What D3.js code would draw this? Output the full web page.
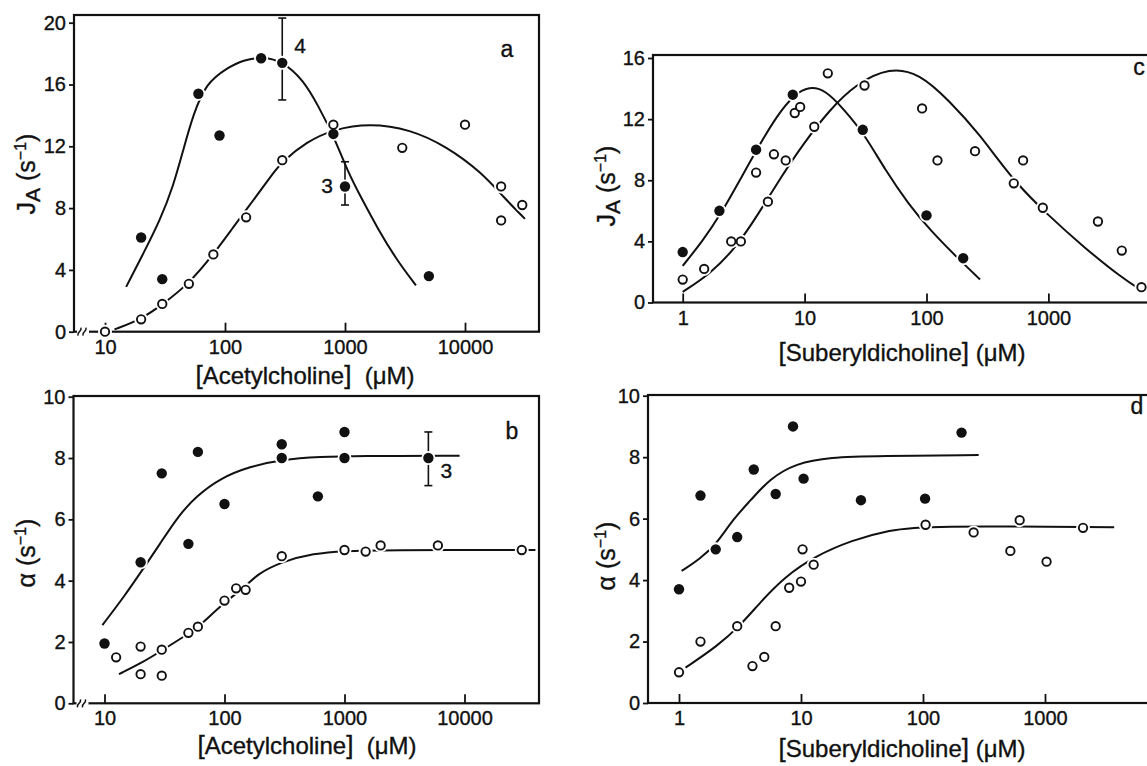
<!DOCTYPE html>
<html>
<head>
<meta charset="utf-8">
<script src="https://cdn.jsdelivr.net/npm/d3@7"></script>
<style>
  body { margin: 0; background: #fff; }
  svg { display: block; font-family: "Liberation Sans", Arial, sans-serif; }
  svg text { stroke: #111; stroke-width: 0.35px; }
</style>
</head>
<body>
<svg id="fig" width="1147" height="766"></svg>
<script>
// ---- data ----
// panel a: J_A vs [Acetylcholine]
const achFilledJ = [[20,6.1],[30,3.4],[60,15.4],[90,12.7],[200,17.7],[300,17.4],[800,12.8],[1000,9.4],[5000,3.6]];
const achOpenJ = [[10,0],[20,0.8],[30,1.8],[50,3.1],[80,5.0],[150,7.4],[300,11.1],[800,13.4],[3000,11.9],[10000,13.4],[20000,9.4],[20000,7.2],[30000,8.2]];
const achJErr = [[300,15.0,20.3,"4"],[1000,8.2,11.0,"3"]];
const achFilledJFit = [[15,2.9],[21,5.1],[28.7,7.2],[37,9.4],[45,11.8],[54.5,14.1],[70,16.1],[103,17.05],[142,17.6],[209,17.8],[300,17.5],[450,16.3],[600,14.6],[800,12.7],[1070,10.25],[1350,8.74],[1900,6.58],[2700,4.64],[3900,3.0]];
const achOpenJFit = [[12,0.15],[20,0.8],[30,1.75],[50,3.1],[80,5.0],[118,6.8],[172,8.5],[251,10.25],[300,11.0],[480,12.3],[800,13.1],[1600,13.5],[3500,13.1],[7000,12.0],[13800,10.3],[21000,8.7],[31600,7.3]];

// panel b: alpha vs [Acetylcholine]
const achFilledA = [[10,1.95],[20,4.6],[30,7.5],[50,5.2],[60,8.2],[100,6.5],[300,8.45],[300,8.0],[600,6.75],[1000,8.85],[1000,8.0],[5000,8.0]];
const achOpenA = [[12.5,1.5],[20,1.85],[20,0.95],[30,1.75],[30,0.9],[50,2.3],[60,2.5],[100,3.35],[125,3.75],[150,3.7],[300,4.8],[1000,5.0],[1500,4.95],[2000,5.15],[6000,5.15],[30000,5.0]];
const achAErr = [[5000,7.1,8.85,"3"]];
const achFilledAFit = [[9.6,2.55],[14.7,3.5],[20.7,4.35],[29,5.2],[41,6.1],[58,6.75],[93,7.35],[162,7.72],[300,7.95],[640,8.04],[1250,8.07],[9100,8.07]];
const achOpenAFit = [[13.2,0.95],[20.7,1.33],[30,1.72],[50,2.27],[60,2.47],[100,3.3],[150,3.8],[185,4.2],[300,4.62],[555,4.89],[1000,4.97],[2000,5.0],[39000,5.0]];

// panel c: J_A vs [Suberyldicholine]
const subFilledJ = [[1,3.3],[2,6.0],[4,10.0],[8,13.6],[30,11.3],[100,5.7],[200,2.9]];
const subOpenJ = [[1,1.5],[1.5,2.2],[2.5,4.0],[3,4.0],[4,8.5],[5,6.6],[5.6,9.7],[7,9.3],[8.3,12.4],[9.2,12.8],[12,11.5],[15.5,15.0],[31,14.2],[92,12.7],[123,9.3],[250,9.9],[520,7.8],[620,9.3],[900,6.2],[2550,5.3],[4000,3.4],[5800,1.0]];
const subFilledJFit = [[1,2.4],[1.45,4.0],[2.06,5.8],[2.94,8.0],[4.18,10.2],[5.95,12.25],[8.2,13.6],[10.9,14.15],[14.9,13.9],[21.2,12.6],[30.7,11.05],[46,8.65],[71,6.45],[108,4.7],[178,2.95],[275,1.5]];
const subOpenJFit = [[1,0.7],[1.67,1.85],[2.74,3.6],[4.18,5.8],[6.39,8.2],[9.78,10.4],[16,12.6],[26.3,14.3],[50,15.4],[87.5,15.0],[154,13.2],[271,11.05],[512,8.0],[968,5.8],[1963,3.6],[3980,1.63],[5890,0.76]];

// panel d: alpha vs [Suberyldicholine]
const subFilledA = [[1,3.7],[1.5,6.75],[2,5.0],[3,5.4],[4.1,7.6],[6.2,6.8],[8.6,9.0],[10.5,7.3],[31,6.6],[104,6.65],[207,8.8]];
const subOpenA = [[1,1.0],[1.5,2.0],[3,2.5],[4,1.2],[5,1.5],[6.2,2.5],[8,3.75],[10,3.95],[10.3,5.0],[12.7,4.5],[105,5.8],[260,5.55],[520,4.95],[620,5.95],[1030,4.6],[2050,5.7]];
const subFilledAFit = [[1.05,4.3],[1.45,4.65],[2.06,5.2],[2.73,5.95],[3.88,6.6],[5.54,7.3],[9.1,7.8],[17.2,8.0],[43,8.04],[286,8.07]];
const subOpenAFit = [[1.13,1.15],[2.06,1.85],[3.14,2.5],[4.81,3.35],[7.34,4.1],[12.9,4.77],[26.2,5.3],[53,5.63],[105,5.77],[3690,5.72]];

// tick values
const achTicks = [10, 100, 1000, 10000];
const subTicks = [1, 10, 100, 1000];
const jTicksA = [0, 4, 8, 12, 16, 20];
const jTicksC = [0, 4, 8, 12, 16];
const alphaTicks = [0, 2, 4, 6, 8, 10];

const svg = d3.select("#fig");
const ink = "#111";

// panel layout (pixels)
const panels = [
  { letter: "a", left: 74, right: 539, top: 15, xDom: [10, 10000], xRng: [105, 465], yDom: [0, 20], yRng: [331.7, 22.7],
    xTicks: achTicks, yTicks: jTicksA, brk: true, yTitle: "J", letterPos: [507, 50],
    xTitle: "Acetylcholine", xTitlePos: [305, 384], yTitlePos: [26, 174],
    filled: achFilledJ, open: achOpenJ, err: achJErr, fits: [achFilledJFit, achOpenJFit] },
  { letter: "b", left: 73.5, right: 539, top: 396, xDom: [10, 10000], xRng: [104.5, 464.5], yDom: [0, 10], yRng: [703.3, 396.7],
    xTicks: achTicks, yTicks: alphaTicks, brk: true, yTitle: "α", letterPos: [512, 432],
    xTitle: "Acetylcholine", xTitlePos: [307, 754], yTitlePos: [26, 553],
    filled: achFilledA, open: achOpenA, err: achAErr, fits: [achFilledAFit, achOpenAFit] },
  { letter: "c", left: 653, right: 1152, top: 55, xDom: [1, 1000], xRng: [682.7, 1048.4], yDom: [0, 16], yRng: [302.5, 58],
    xTicks: subTicks, yTicks: jTicksC, brk: false, yTitle: "J", letterPos: [1139, 68],
    xTitle: "Suberyldicholine", xTitlePos: [902, 361], yTitlePos: [606, 186],
    filled: subFilledJ, open: subOpenJ, err: [], fits: [subFilledJFit, subOpenJFit] },
  { letter: "d", left: 648, right: 1152, top: 395, xDom: [1, 1000], xRng: [679, 1045], yDom: [0, 10], yRng: [703, 395.7],
    xTicks: subTicks, yTicks: alphaTicks, brk: false, yTitle: "α", letterPos: [1137, 407],
    xTitle: "Suberyldicholine", xTitlePos: [902, 757], yTitlePos: [606, 556],
    filled: subFilledA, open: subOpenA, err: [], fits: [subFilledAFit, subOpenAFit] }
];

panels.forEach(p => {
  const x = d3.scaleLog().domain(p.xDom).range(p.xRng);
  const y = d3.scaleLinear().domain(p.yDom).range(p.yRng);
  const bottom = y(0);
  const g = svg.append("g");

  // frame
  g.append("rect")
    .attr("x", p.left).attr("y", p.top)
    .attr("width", p.right - p.left).attr("height", bottom - p.top)
    .attr("fill", "none").attr("stroke", ink).attr("stroke-width", 2.2);

  // x axis, ticks pointing inward
  const xa = g.append("g").attr("transform", `translate(0,${bottom})`)
    .call(d3.axisBottom(x).tickValues(p.xTicks).tickFormat(d3.format("d")).tickSize(-9).tickPadding(8));
  xa.select(".domain").remove();
  xa.selectAll("line").attr("stroke", ink).attr("stroke-width", 1.8);
  xa.selectAll("text").attr("fill", ink).style("font-size", "20px");

  // y axis, ticks outward
  const ya = g.append("g").attr("transform", `translate(${p.left},0)`)
    .call(d3.axisLeft(y).tickValues(p.yTicks).tickSize(5).tickPadding(3));
  ya.select(".domain").remove();
  ya.selectAll("line").attr("stroke", ink).attr("stroke-width", 1.8);
  ya.selectAll("text").attr("fill", ink).style("font-size", "20px");

  // axis break on the log axis
  if (p.brk) {
    g.append("rect").attr("x", p.left + 3).attr("y", bottom - 4).attr("width", 12).attr("height", 8).attr("fill", "#fff");
    [p.left + 6, p.left + 11].forEach(bx => {
      g.append("path")
        .attr("d", `M${bx - 2},${bottom + 4} C${bx - 3},${bottom - 1} ${bx + 2},${bottom + 1} ${bx + 1},${bottom - 4}`)
        .attr("fill", "none").attr("stroke", ink).attr("stroke-width", 1.5);
    });
  }

  // fitted curves
  const line = d3.line().x(d => x(d[0])).y(d => y(d[1])).curve(d3.curveBasis);
  p.fits.forEach(f => {
    g.append("path").datum(f).attr("d", line)
      .attr("fill", "none").attr("stroke", ink).attr("stroke-width", 2);
  });

  // error bars
  p.err.forEach(e => {
    const ex = x(e[0]);
    g.append("line").attr("x1", ex).attr("x2", ex).attr("y1", y(e[1])).attr("y2", y(e[2]))
      .attr("stroke", ink).attr("stroke-width", 1.6);
    [e[1], e[2]].forEach(v => {
      g.append("line").attr("x1", ex - 4).attr("x2", ex + 4).attr("y1", y(v)).attr("y2", y(v))
        .attr("stroke", ink).attr("stroke-width", 1.6);
    });
  });

  // white halos break the lines around the markers
  const all = p.filled.concat(p.open);
  g.append("g").selectAll("circle").data(all).enter().append("circle")
    .attr("cx", d => x(d[0])).attr("cy", d => y(d[1])).attr("r", 7).attr("fill", "#fff");

  g.append("g").selectAll("circle").data(p.open).enter().append("circle")
    .attr("cx", d => x(d[0])).attr("cy", d => y(d[1])).attr("r", 4.2)
    .attr("fill", "#fff").attr("stroke", ink).attr("stroke-width", 1.9);

  g.append("g").selectAll("circle").data(p.filled).enter().append("circle")
    .attr("cx", d => x(d[0])).attr("cy", d => y(d[1])).attr("r", 5.2).attr("fill", ink);

  // error bar counts
  p.err.forEach(e => {
    const onLeft = p.letter === "a" && e[3] === "3";
    g.append("text")
      .attr("x", x(e[0]) + (onLeft ? -12 : 12))
      .attr("y", onLeft ? y(9.4) + 7 : (p.letter === "a" ? y(e[2]) + 35 : y(8.0) + 20))
      .attr("text-anchor", onLeft ? "end" : "start")
      .attr("fill", ink).style("font-size", "21px").text(e[3]);
  });

  // panel letter
  g.append("text").attr("x", p.letterPos[0]).attr("y", p.letterPos[1] + 7)
    .attr("text-anchor", "middle").attr("fill", ink)
    .style("font-size", "23px").text(p.letter);

  // x title
  const xt = g.append("text").attr("x", p.xTitlePos[0]).attr("y", p.xTitlePos[1])
    .attr("text-anchor", "middle").attr("fill", ink).style("font-size", "24px").style("white-space", "pre");
  xt.append("tspan").style("font-size", "26px").text("[");
  xt.append("tspan").text(p.xTitle);
  xt.append("tspan").style("font-size", "26px").text("]");
  xt.append("tspan").text(p.letter < "c" ? "  (μM)" : " (μM)");

  // y title
  const yt = g.append("text")
    .attr("transform", `translate(${p.yTitlePos[0]},${p.yTitlePos[1]}) rotate(-90)`)
    .attr("text-anchor", "middle").attr("dy", "0.35em").attr("fill", ink)
    .style("font-size", "25px").style("white-space", "pre");
  yt.append("tspan").text(p.yTitle);
  if (p.yTitle === "J") yt.append("tspan").attr("dy", 5).style("font-size", "21px").text("A");
  yt.append("tspan").attr("dy", p.yTitle === "J" ? -5 : 0).text(" (s");
  yt.append("tspan").attr("dy", -9).style("font-size", "16px").text("−1");
  yt.append("tspan").attr("dy", 9).text(")");
});
</script>
</body>
</html>
